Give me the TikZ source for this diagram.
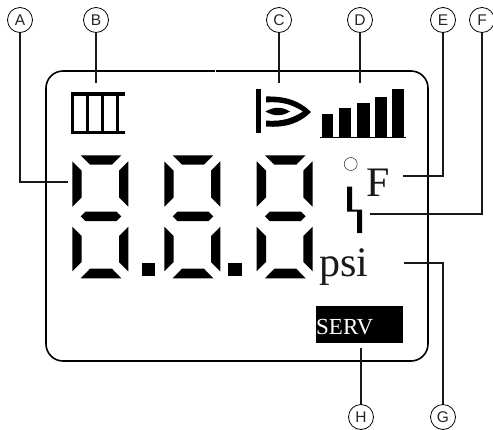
\documentclass[tikz,border=0pt]{standalone}
\usepackage{fontspec}
\setmainfont{Liberation Serif}
\newfontfamily\lblfont{Liberation Sans}
\tikzset{
  x=1pt,y=-1pt,
  leader/.style={draw=black!90,line width=1.35pt},
  callout/.style={circle,draw=black,line width=0.8pt,fill=white,minimum size=25pt,inner sep=0pt,font=\lblfont\fontsize{15.5}{15.5}\selectfont,text=black!85},
  seg/.style={fill=black,draw=none},
  bigtxt/.style={inner sep=0pt,anchor=base west,font=\fontsize{42}{42}\selectfont,text=black!90},
}
\newcommand{\digitat}[1]{%
\begin{scope}[xshift=#1]
\fill[seg] (80.7,155.3)--(121.3,155.3)--(112,164.7)--(90,164.7)--cycle;
\fill[seg] (72.3,161.3)--(81.7,170.7)--(81.7,197.3)--(72.3,206.7)--cycle;
\fill[seg] (128.3,161.3)--(119,170.7)--(119,197.3)--(128.3,206.7)--cycle;
\fill[seg] (80.7,216.3)--(85.3,211.7)--(116.7,211.7)--(121.3,216.3)--(116.7,221)--(85.3,221)--cycle;
\fill[seg] (72.3,226.7)--(81.7,236)--(81.7,262)--(72.3,271.3)--cycle;
\fill[seg] (128.3,226.7)--(119,236)--(119,262)--(128.3,271.3)--cycle;
\fill[seg] (80.7,278.3)--(90,268.7)--(112,268.7)--(121.3,278.3)--cycle;
\end{scope}}
\begin{document}
\begin{tikzpicture}
\useasboundingbox (0,0) rectangle (493,429);
% callouts
\node[callout] (A) at (20,20) {A};
\node[callout] (B) at (96,20) {B};
\node[callout] (C) at (279,20) {C};
\node[callout] (D) at (360,20) {D};
\node[callout] (E) at (443,20) {E};
\node[callout] (F) at (482,20) {F};
\node[callout] (H) at (361,417) {H};
\node[callout] (G) at (443,417) {G};
\coordinate (a) at (68,182);
\coordinate (b) at (96,83);
\coordinate (c) at (279,83);
\coordinate (d) at (360,83);
\coordinate (e) at (403,176);
\coordinate (f) at (370,214);
\coordinate (g) at (404,263);
\coordinate (h) at (361,348);
% frame
\draw[line width=1.6pt,black,rounded corners=17pt] (46,71) rectangle (428,361);
\fill[white] (214.5,70) rectangle (215.5,72);
% leaders
\draw[leader] (A.south) |- (a);
\draw[leader] (B.south) -- (b);
\draw[leader] (C.south) -- (c);
\draw[leader] (D.south) -- (d);
\draw[leader] (E.south) |- (e);
\draw[leader] (F.south) |- (f);
\draw[leader] (G.north) |- (g);
\draw[leader] (H.north) -- (h);
% battery
\fill[black] (71,92) rectangle (125,96);
\fill[black] (71,130.5) rectangle (125,134);
\fill[black] (71,92) rectangle (74.3,134);
\fill[black] (85.7,95) rectangle (89.2,132);
\fill[black] (100.7,95) rectangle (104.2,132);
\fill[black] (115.7,95) rectangle (119.2,132);
% eye
\fill[black] (256,89) rectangle (261,133);
\fill[black] (266,96.5) .. controls (286,96) and (300,101) .. (311,112) .. controls (300,123) and (286,128) .. (266,126.5) -- (266,120.5) .. controls (282,122) and (293,118) .. (303,111.5) .. controls (293,105) and (282,101) .. (266,102.5) -- cycle;
\fill[black] (265.5,111.5) .. controls (274,106.5) and (282,106.5) .. (290,111.5) .. controls (282,116.5) and (274,116.5) .. (265.5,111.5) -- cycle;
% signal bars
\fill[black] (322,114) rectangle (333,137);
\fill[black] (339,108) rectangle (351,137);
\fill[black] (357,103) rectangle (370,137);
\fill[black] (375,97) rectangle (387,137);
\fill[black] (392,89) rectangle (404,137);
\fill[black] (320,137) rectangle (337,138.3);
\fill[black] (389,137) rectangle (406,138.3);
\fill[black] (337,137.4) rectangle (389,137.9);
% digits
\digitat{0}
\digitat{92}
\digitat{184.3}
\fill[black] (141.7,262.7) rectangle (155,276);
\fill[black] (228.3,262.7) rectangle (242,276);
% degree
\node[circle,draw=black,line width=0.4pt,minimum size=13pt,inner sep=0pt] (deg) at (350.7,164) {};
\node[bigtxt] (ftxt) at (366.5,196.7) {F};
\node[bigtxt] (psi) at (319,276.7) {psi};
% bolt
\fill[black] (347,186.7)--(352,186.7)--(352,209.5)--(362,209.5)--(362,233)--(357,233)--(357,211.5)--(347,211.5)--cycle;
% SERV
\fill[black] (316,306) rectangle (403,343);
\node[inner sep=0pt,anchor=base west,text=white,font=\fontsize{23}{23}\selectfont] (serv) at (316,334.7) {SERV};
\end{tikzpicture}
\end{document}
